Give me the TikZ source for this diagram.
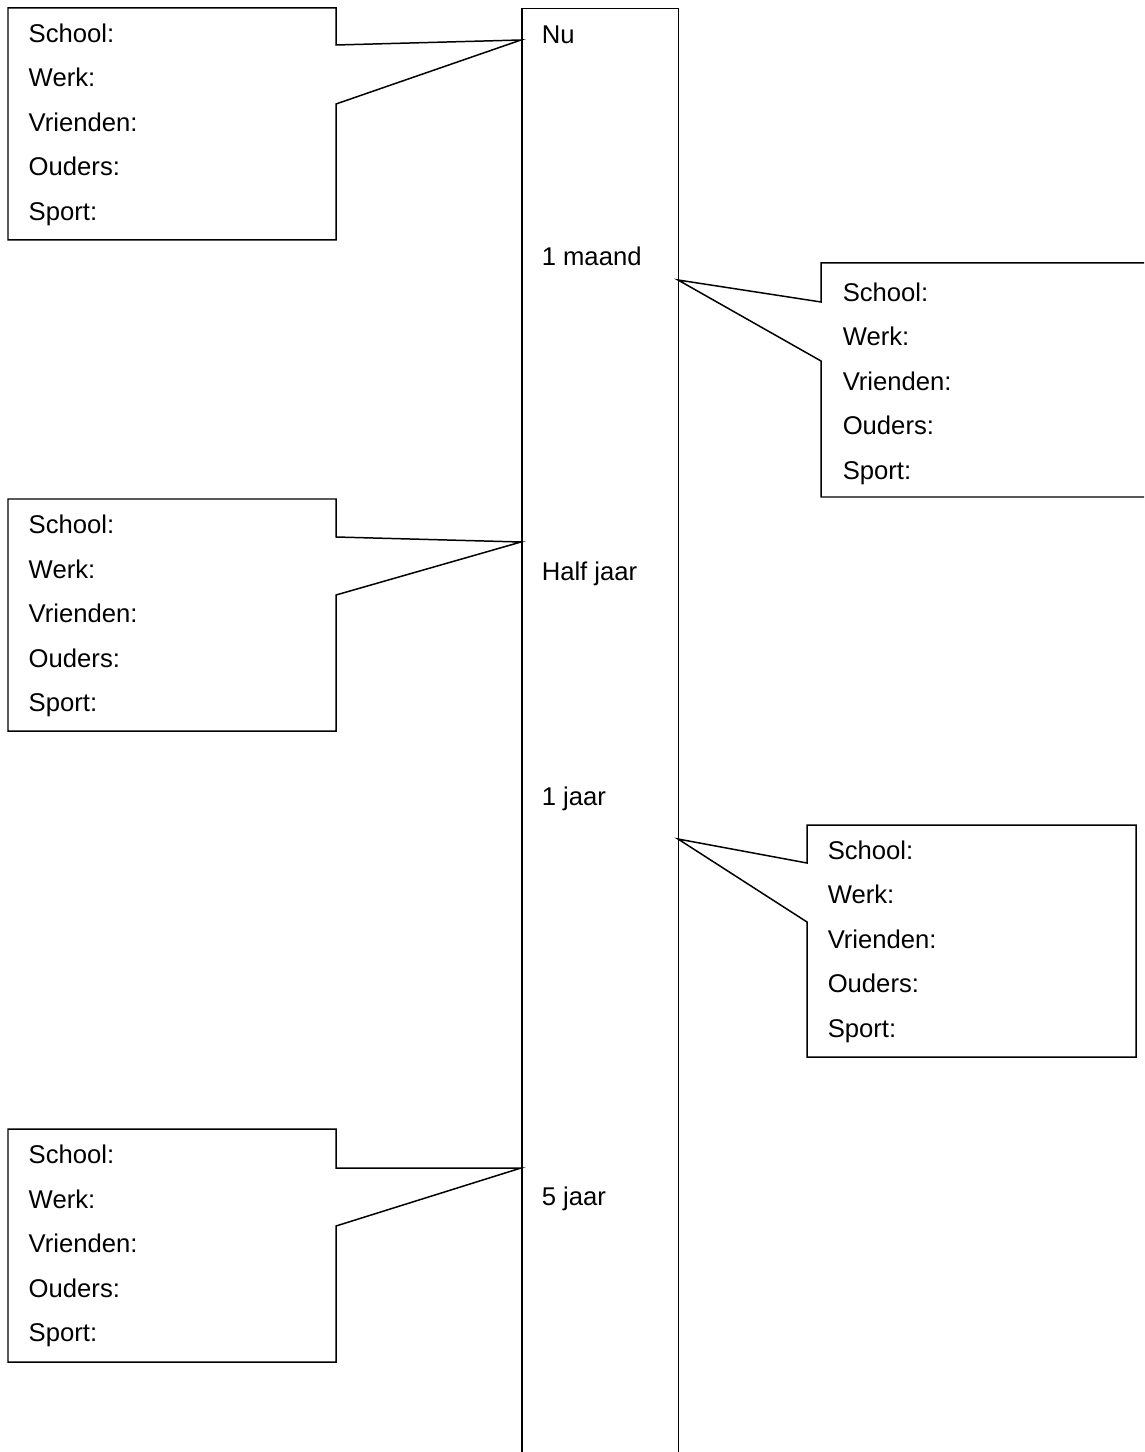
\documentclass[tikz,border=0pt]{standalone}
\usepackage{fontspec}
\setmainfont{Liberation Sans}
\begin{document}
\begin{tikzpicture}[x=0.02cm,y=-0.02cm,line width=0.85pt,
  lbl/.style={anchor=base west,inner sep=0pt,font=\fontsize{14.6}{17}\selectfont},
  callout/.style={draw=black,line join=miter,fill=white}]
\useasboundingbox (0,0) rectangle (1144,1452);
\clip (0,0) rectangle (1144,1452);
% timeline bar (bottom edge lies beyond the page)
\node[draw,line width=0.85pt,inner sep=0pt,minimum width=3.14cm,minimum height=29.4cm,anchor=north west] (bar) at (521,8) {};
\node[lbl] (nu) at (541,44) {Nu};
\node[lbl] (maand) at (541,266) {1 maand};
\node[lbl] (half) at (541,580) {Half jaar};
\node[lbl] (jaar) at (541,805) {1 jaar};
\node[lbl] (vijf) at (541,1205) {5 jaar};
% pointer tips on the bar
\coordinate (t1) at (521,40);
\coordinate (t2) at (678,280);
\coordinate (t3) at (521,542);
\coordinate (t4) at (678,839);
\coordinate (t5) at (521,1168);
% callout 1
\draw[callout] (8,8) -- (336,8) -- (336,45) -- (t1) -- (336,104) -- (336,240) -- (8,240) -- cycle;
% callout 2 (right edge beyond the page)
\draw[callout] (1160,263) -- (821,263) -- (821,302) -- (t2) -- (821,361) -- (821,497) -- (1160,497);
% callout 3
\draw[callout] (8,499) -- (336,499) -- (336,537) -- (t3) -- (336,595) -- (336,731) -- (8,731) -- cycle;
% callout 4
\draw[callout] (807,825) -- (1136,825) -- (1136,1057) -- (807,1057) -- (807,922) -- (t4) -- (807,863) -- cycle;
% callout 5
\draw[callout] (8,1129) -- (336,1129) -- (336,1168) -- (t5) -- (336,1226) -- (336,1362) -- (8,1362) -- cycle;
% texts
\foreach \t [count=\i from 0] in {School:,Werk:,Vrienden:,Ouders:,Sport:}{
  \node[lbl] (a\i) at (28,42.5+44.5*\i) {\t};
  \node[lbl] (b\i) at (842,301.5+44.4*\i) {\t};
  \node[lbl] (c\i) at (28,533.5+44.5*\i) {\t};
  \node[lbl] (d\i) at (827,859+44.5*\i) {\t};
  \node[lbl] (e\i) at (28,1163.5+44.5*\i) {\t};
}
\end{tikzpicture}
\end{document}
